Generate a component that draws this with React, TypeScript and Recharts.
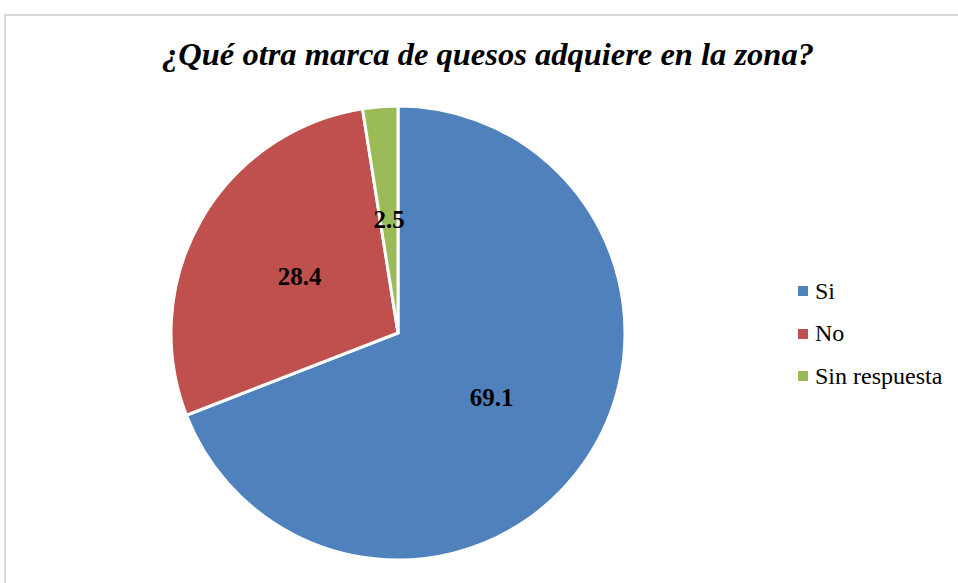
import React from "react";
import { PieChart, Pie, Cell, Legend } from "recharts";

const categories = ["Si", "No", "Sin respuesta"];
const values = [69.1, 28.4, 2.5];
const colors = ["#4F81BD", "#C0504D", "#9BBB59"];

const data = categories.map((name, i) => ({ name, value: values[i] }));

const RADIAN = Math.PI / 180;
const serif = "'Liberation Serif', 'Times New Roman', serif";

function renderLabel(props: any) {
  const { cx, cy, midAngle, outerRadius, value } = props;
  const r = outerRadius * 0.5;
  const x = cx + r * Math.cos(-midAngle * RADIAN);
  const y = cy + r * Math.sin(-midAngle * RADIAN);
  return (
    <text x={x} y={y} textAnchor="middle" dominantBaseline="central" fill="#000" style={{ fontFamily: serif }} fontWeight="bold" fontSize={25}>
      {value}
    </text>
  );
}

function LegendContent() {
  return (
    <div style={{ fontFamily: serif, fontSize: 24, color: "#000" }}>
      {categories.map((c, i) => (
        <div key={c} style={{ display: "flex", alignItems: "center", height: 42.5 }}>
          <span style={{ width: 10, height: 10, background: colors[i], marginRight: 7, display: "inline-block" }} />
          <span>{c}</span>
        </div>
      ))}
    </div>
  );
}

export default function App() {
  return (
    <div style={{ position: "absolute", left: 0, top: 0, width: 958, height: 583, background: "#fff", overflow: "hidden" }}>
      <div style={{ position: "absolute", left: 4, top: 14, width: 960, height: 580, borderTop: "2px solid #d9d9d9", borderLeft: "2px solid #d9d9d9" }} />
      <div style={{ position: "absolute", left: 0, top: 36, width: 976, textAlign: "center", fontFamily: serif, fontWeight: "bold", fontStyle: "italic", fontSize: 32.5, lineHeight: "normal" }}>
        ¿Qué otra marca de quesos adquiere en la zona?
      </div>
      <div style={{ position: "absolute", left: 0, top: 0 }}>
        <PieChart width={958} height={583} margin={{ top: 0, right: 0, bottom: 0, left: 0 }}>
          <Pie
            data={data}
            dataKey="value"
            nameKey="name"
            cx={398}
            cy={333}
            outerRadius={227}
            startAngle={90}
            endAngle={-270}
            stroke="#fff"
            strokeWidth={3}
            label={renderLabel}
            labelLine={false}
            isAnimationActive={false}
          >
            {data.map((d, i) => (
              <Cell key={d.name} fill={colors[i]} />
            ))}
          </Pie>
          <Legend
            layout="vertical"
            content={<LegendContent />}
            wrapperStyle={{ position: "absolute", left: 798, top: 270, width: 160 }}
          />
        </PieChart>
      </div>
    </div>
  );
}
